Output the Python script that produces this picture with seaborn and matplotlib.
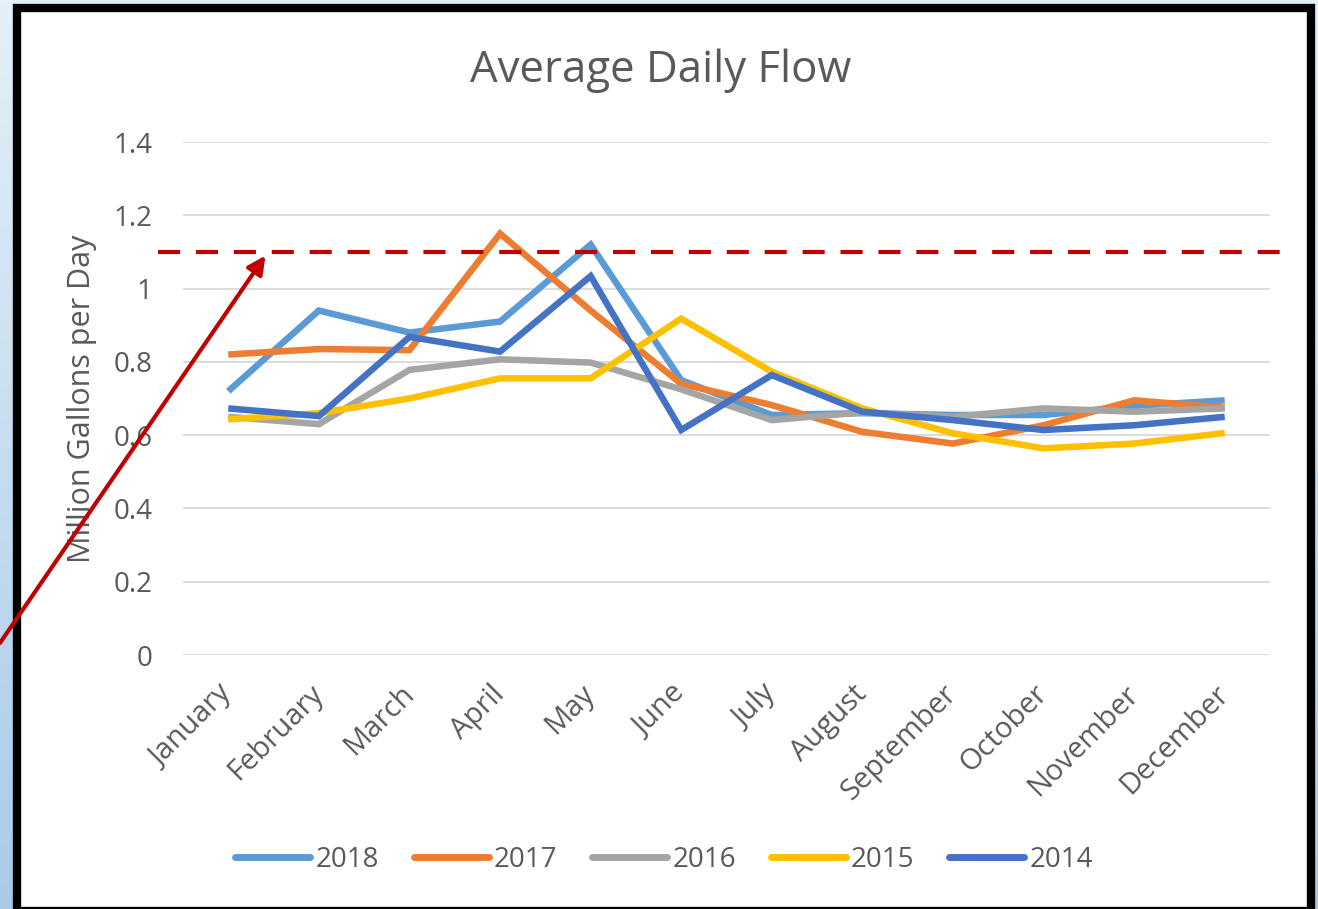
import numpy as np
import pandas as pd
import matplotlib
matplotlib.use("Agg")
import matplotlib.pyplot as plt
from matplotlib.patches import Rectangle
from matplotlib.colors import LinearSegmentedColormap
import seaborn as sns

months = ["January", "February", "March", "April", "May", "June", "July",
          "August", "September", "October", "November", "December"]
years = ["2018", "2017", "2016", "2015", "2014"]
flow_2018 = [0.72, 0.94, 0.88, 0.91, 1.12, 0.75, 0.655, 0.66, 0.655, 0.655, 0.68, 0.695]
flow_2017 = [0.82, 0.835, 0.832, 1.15, 0.94, 0.74, 0.682, 0.609, 0.577, 0.627, 0.695, 0.675]
flow_2016 = [0.65, 0.63, 0.778, 0.807, 0.798, 0.725, 0.641, 0.662, 0.65, 0.673, 0.664, 0.673]
flow_2015 = [0.643, 0.66, 0.70, 0.755, 0.755, 0.918, 0.773, 0.673, 0.605, 0.564, 0.577, 0.606]
flow_2014 = [0.673, 0.652, 0.868, 0.828, 1.034, 0.614, 0.764, 0.664, 0.641, 0.614, 0.627, 0.65]
threshold = 1.1
colors = {"2018": "#5B9BD5", "2017": "#ED7D31", "2016": "#A5A5A5",
          "2015": "#FFC000", "2014": "#4472C4"}

series = {"2018": flow_2018, "2017": flow_2017, "2016": flow_2016,
          "2015": flow_2015, "2014": flow_2014}
df = pd.DataFrame([{"Month": m, "Year": y, "Flow": v}
                   for y in years for m, v in zip(months, series[y])])

sns.set_theme(style="white")
plt.rcParams["font.family"] = ["Open Sans", "DejaVu Sans"]

W, H = 1318, 909
fig = plt.figure(figsize=(W / 100, H / 100), dpi=100)

# background gradient (slide background)
bg = fig.add_axes([0, 0, 1, 1], zorder=-10)
cmap = LinearSegmentedColormap.from_list("bg", ["#e4f0f8", "#a9cbe8"])
bg.imshow(np.linspace(0, 1, 256).reshape(-1, 1), aspect="auto", cmap=cmap,
          extent=[0, 1, 0, 1])
bg.set_axis_off()

# white chart card with black frame
fig.patches.append(Rectangle((17 / W, 1 - 911 / H), (1311 - 17) / W, (911 - 8) / H,
                             transform=fig.transFigure, facecolor="white",
                             edgecolor="black", linewidth=6, zorder=-5))

ax = fig.add_axes([183 / W, 1 - 655 / H, (1270 - 183) / W, (655 - 142) / H])
ax.set_facecolor("none")
sns.lineplot(data=df, x="Month", y="Flow", hue="Year", hue_order=years,
             palette=colors, linewidth=4.7, sort=False, ax=ax, legend=True)
for ln in ax.lines:
    ln.set_solid_capstyle("butt")
    ln.set_solid_joinstyle("miter")

ax.set_xlim(-0.5, 11.5)
ax.set_ylim(0, 1.4)
ax.set_yticks(np.arange(0, 1.41, 0.2))
ax.set_yticklabels([f"{v:g}" for v in np.arange(0, 1.41, 0.2)])
ax.grid(axis="y", color="#d9d9d9", linewidth=1.3)
ax.grid(axis="x", visible=False)
for s in ax.spines.values():
    s.set_visible(False)
ax.tick_params(axis="y", length=0, pad=22, labelsize=20, labelcolor="#595959")
ax.tick_params(axis="x", length=0, pad=25, labelsize=21, labelcolor="#595959")
for lab in ax.get_xticklabels():
    lab.set_rotation(45)
    lab.set_ha("right")
    lab.set_va("center")
    lab.set_rotation_mode("anchor")
ax.set_xlabel("")
ax.set_ylabel("Million Gallons per Day", fontsize=22, color="#595959")
ax.yaxis.set_label_coords(-0.079, 0.5)

# threshold line
ax.plot([-0.78, 11.62], [threshold, threshold], color="#C00000", linewidth=3,
        dashes=(5.3, 3.8), clip_on=False, zorder=5)
# red arrow
ax.annotate("", xy=(0.41, threshold - 0.01), xycoords="data",
            xytext=(0.0, 1 - 643 / H), textcoords="figure fraction",
            arrowprops=dict(arrowstyle="-|>,head_length=0.9,head_width=0.45",
                            color="#C00000", lw=3, shrinkA=0, shrinkB=0),
            annotation_clip=False, zorder=6)

fig.text(661 / W, 1 - 71 / H, "Average Daily Flow", ha="center", va="center",
         fontsize=31.5, color="#595959")

handles, labels = ax.get_legend_handles_labels()
for h in handles:
    h.set_linewidth(5)
    h.set_solid_capstyle("round")
ax.legend(handles, labels, loc="center", bbox_to_anchor=(664 / W, 1 - 860 / H),
          bbox_transform=fig.transFigure, ncol=5, frameon=False, fontsize=20,
          handlelength=2.7, handletextpad=0.18, columnspacing=1.26,
          labelcolor="#595959")

fig.savefig("out.png", dpi=100)
